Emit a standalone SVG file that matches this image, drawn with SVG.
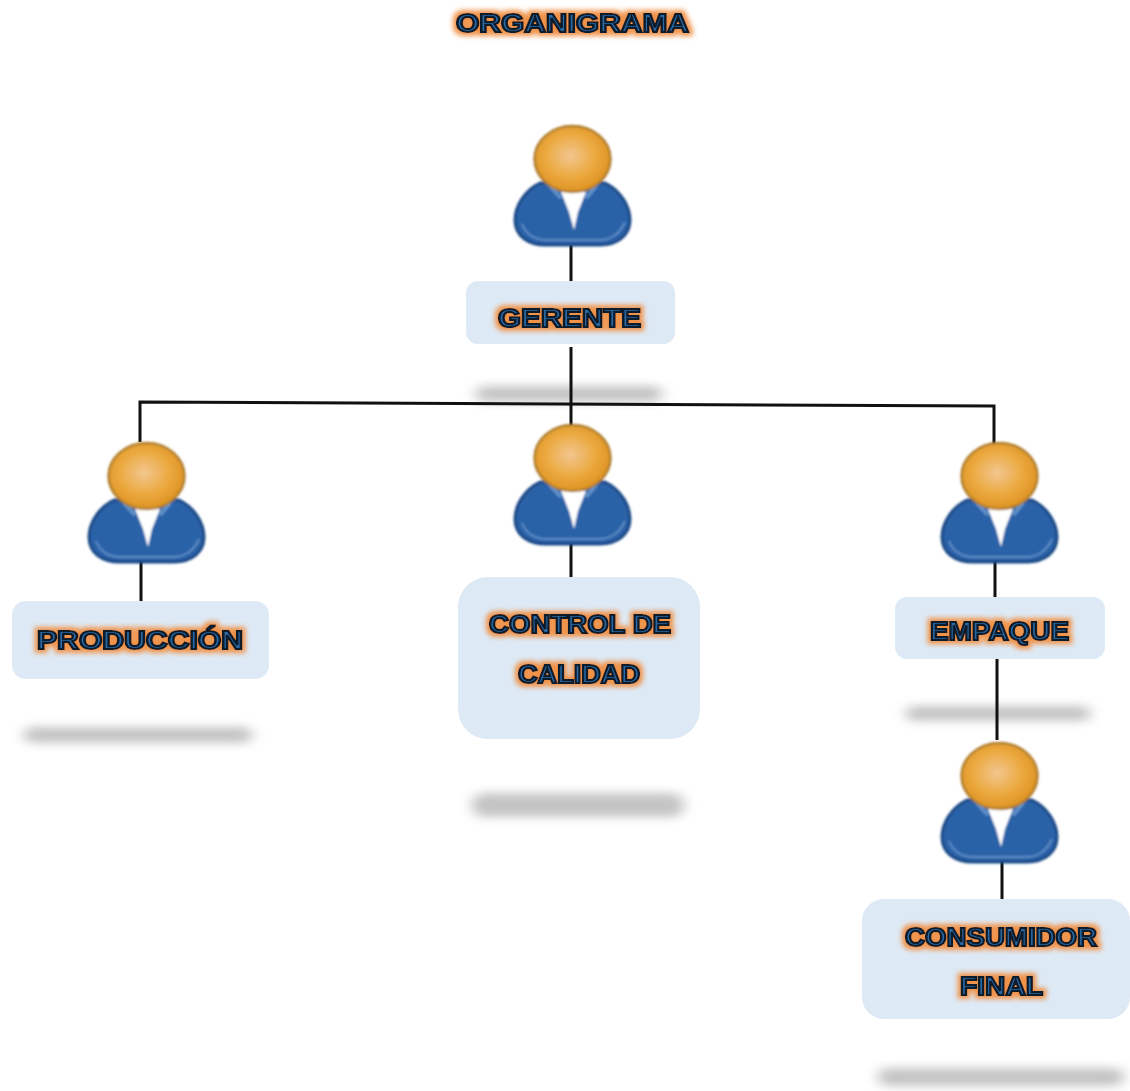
<svg xmlns="http://www.w3.org/2000/svg" width="1130" height="1091" viewBox="0 0 1130 1091">
<style>
.box{fill:#dde9f5}
.shadow{fill:#8a8a8a;opacity:.5;filter:url(#soft)}
.line{fill:none;stroke:#111;stroke-width:3}
.label{font-family:"Liberation Sans",Arial,sans-serif;font-weight:700;font-size:25px;fill:#2b6aa5;stroke:#0c1a2c;stroke-width:2.200;filter:url(#glow)}
</style>
<defs>
<filter id="soft" filterUnits="userSpaceOnUse" x="0" y="0" width="1130" height="1091"><feGaussianBlur stdDeviation="7 5"/></filter>
<filter id="blur1" x="-10%" y="-10%" width="120%" height="130%"><feGaussianBlur stdDeviation="0.800"/></filter>
<filter id="glow" x="-10%" y="-60%" width="120%" height="220%">
<feMorphology in="SourceAlpha" operator="dilate" radius="2.500" result="d"/>
<feGaussianBlur in="d" stdDeviation="2.500" result="b"/>
<feFlood flood-color="#f0934a"/>
<feComposite in2="b" operator="in" result="g"/>
<feGaussianBlur in="SourceGraphic" stdDeviation="0.700" result="s"/>
<feMerge><feMergeNode in="g"/><feMergeNode in="s"/></feMerge>
</filter>
<radialGradient id="head" cx=".47" cy=".45" r=".55"><stop offset="0" stop-color="#f3c690"/><stop offset=".6" stop-color="#eba93f"/><stop offset="1" stop-color="#de9322"/></radialGradient>
<g id="person" filter="url(#blur1)">
<path d="M540 183C525 190 515 206 515 220C515 236 528 245 546 245L600 245C618 245 630 235 630 220C630 206 620 190 605 183Z" fill="#2a62a8" stroke="#1c4a86" stroke-width="3"/>
<path d="M522 224C526 235 536 240 546 240L600 240C610 240 620 234 625 222" fill="none" stroke="#5c8cc4" stroke-width="2"/>
<path d="M561 192L586 192L578 212L574 230L569 212Z" fill="#fff"/>
<path d="M550 186L561 198M596 186L586 198" stroke="#5f90c8" stroke-width="4" fill="none"/>
<ellipse cx="572.500" cy="159" rx="38" ry="33" fill="url(#head)" stroke="#b07f30" stroke-width="2.500"/>
</g>
</defs>
<rect class="shadow" x="476" y="386" width="186" height="16" rx="8"/>
<rect class="shadow" x="24" y="727" width="228" height="16" rx="8"/>
<rect class="shadow" x="472" y="793" width="212" height="24" rx="12"/>
<rect class="shadow" x="906" y="706" width="184" height="15" rx="7"/>
<rect class="shadow" x="878" y="1068" width="246" height="18" rx="9"/>
<g id="connectors">
<path class="line" d="M571 245V281"/>
<path class="line" d="M571 347V430"/>
<path class="line" d="M140 442V402L994 406V444"/>
<path class="line" d="M141 558V602"/>
<path class="line" d="M571 543V579"/>
<path class="line" d="M995 558V598"/>
<path class="line" d="M997 659V740"/>
<path class="line" d="M1002 858V900"/>
</g>
<g id="titulo"><text class="label" x="456" y="32" textLength="233" lengthAdjust="spacingAndGlyphs">ORGANIGRAMA</text></g>
<g id="gerente">
<use href="#person"/>
<rect class="box" x="466" y="281" width="209" height="63" rx="12"/>
<text class="label" x="498" y="327" textLength="143" lengthAdjust="spacingAndGlyphs">GERENTE</text>
</g>
<g id="produccion">
<use href="#person" x="-426" y="317"/>
<rect class="box" x="12" y="601" width="257" height="78" rx="14"/>
<text class="label" x="37" y="649" textLength="206" lengthAdjust="spacingAndGlyphs">PRODUCCIÓN</text>
</g>
<g id="control">
<use href="#person" y="299"/>
<rect class="box" x="458" y="577" width="242" height="162" rx="30"/>
<text class="label" x="489" y="633" textLength="182" lengthAdjust="spacingAndGlyphs">CONTROL DE</text>
<text class="label" x="518" y="683" textLength="122" lengthAdjust="spacingAndGlyphs">CALIDAD</text>
</g>
<g id="empaque">
<use href="#person" x="427" y="317"/>
<rect class="box" x="895" y="597" width="210" height="62" rx="12"/>
<text class="label" x="930" y="640" textLength="139" lengthAdjust="spacingAndGlyphs">EMPAQUE</text>
</g>
<g id="consumidor">
<use href="#person" x="427" y="617"/>
<rect class="box" x="862" y="899" width="268" height="120" rx="22"/>
<text class="label" x="905" y="946" textLength="192" lengthAdjust="spacingAndGlyphs">CONSUMIDOR</text>
<text class="label" x="960" y="995" textLength="83" lengthAdjust="spacingAndGlyphs">FINAL</text>
</g>
</svg>
